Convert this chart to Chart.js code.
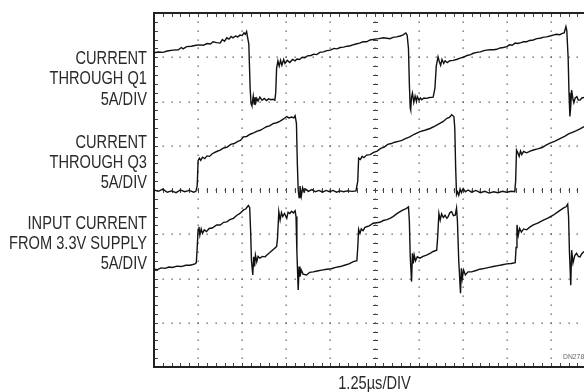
<!DOCTYPE html>
<html><head><meta charset="utf-8">
<script src="https://cdn.jsdelivr.net/npm/chart.js@4"></script>
<style>html,body{margin:0;padding:0;background:#fff;overflow:hidden}canvas{display:block}</style>
</head><body>
<canvas id="c" width="584" height="392"></canvas>
<script>
// time in divisions (1 div = 1.25 µs), current in divisions (1 div = 5 A)
const q1Current = [[0,7.10],[0.1,7.12],[0.2,7.11],[0.3,7.14],[0.43,7.16],[0.55,7.17],[0.62,7.22],[0.66,7.19],[0.74,7.24],[0.85,7.25],[0.95,7.27],[1.04,7.28],[1.12,7.27],[1.2,7.31],[1.28,7.30],[1.34,7.35],[1.42,7.33],[1.50,7.32],[1.55,7.40],[1.60,7.36],[1.65,7.44],[1.70,7.41],[1.75,7.47],[1.79,7.44],[1.85,7.48],[1.90,7.46],[1.95,7.50],[2.00,7.49],[2.04,7.55],[2.07,7.52],[2.10,7.58],[2.12,7.46],[2.15,7.3],[2.18,6.3],[2.20,5.95],[2.22,5.90],[2.25,6.12],[2.27,5.94],[2.29,6.10],[2.31,5.98],[2.33,6.07],[2.36,6.01],[2.40,6.10],[2.45,6.03],[2.50,6.07],[2.55,6.02],[2.60,6.06],[2.65,6.04],[2.70,6.05],[2.74,6.03],[2.76,6.2],[2.78,6.75],[2.81,6.92],[2.84,6.80],[2.87,6.93],[2.90,6.82],[2.94,6.95],[2.97,6.86],[3.02,6.93],[3.08,6.88],[3.14,6.95],[3.20,6.92],[3.24,6.96],[3.30,6.95],[3.36,7.00],[3.42,6.99],[3.48,7.03],[3.56,7.04],[3.62,7.07],[3.69,7.06],[3.76,7.11],[3.84,7.12],[3.92,7.15],[4.00,7.16],[4.08,7.20],[4.15,7.19],[4.22,7.22],[4.30,7.23],[4.38,7.25],[4.45,7.26],[4.51,7.28],[4.58,7.30],[4.66,7.32],[4.74,7.35],[4.82,7.35],[4.90,7.39],[5.01,7.41],[5.10,7.42],[5.20,7.44],[5.28,7.43],[5.35,7.42],[5.42,7.45],[5.50,7.46],[5.58,7.48],[5.64,7.50],[5.71,7.55],[5.74,7.50],[5.77,7.2],[5.79,6.4],[5.81,5.85],[5.82,5.81],[5.84,6.10],[5.86,6.19],[5.89,5.98],[5.92,6.12],[5.95,6.00],[5.97,6.11],[6.01,6.03],[6.04,6.08],[6.07,6.04],[6.12,6.08],[6.18,6.07],[6.25,6.09],[6.33,6.10],[6.37,6.3],[6.40,6.8],[6.44,7.01],[6.47,6.90],[6.50,6.82],[6.53,6.95],[6.57,6.86],[6.60,6.92],[6.65,6.88],[6.71,6.92],[6.78,6.93],[6.86,6.95],[6.94,6.98],[7.02,7.00],[7.10,7.04],[7.18,7.06],[7.24,7.09],[7.32,7.11],[7.40,7.12],[7.48,7.15],[7.54,7.16],[7.62,7.17],[7.70,7.17],[7.77,7.18],[7.85,7.21],[7.92,7.22],[8.00,7.24],[8.06,7.28],[8.12,7.27],[8.19,7.32],[8.25,7.31],[8.32,7.33],[8.38,7.35],[8.45,7.35],[8.52,7.38],[8.60,7.39],[8.68,7.42],[8.75,7.43],[8.82,7.45],[8.90,7.46],[8.98,7.48],[9.05,7.50],[9.12,7.52],[9.20,7.51],[9.26,7.54],[9.30,7.55],[9.34,7.69],[9.36,7.60],[9.39,7.0],[9.41,6.2],[9.43,5.66],[9.45,5.9],[9.47,6.26],[9.50,6.05],[9.52,5.97],[9.55,6.08],[9.59,6.11],[9.62,6.03],[9.66,6.03],[9.70,6.08],[9.75,6.09]];

const q3Current = [[0,4.00],[0.1,3.97],[0.2,4.02],[0.3,3.95],[0.4,3.98],[0.5,3.94],[0.6,4.00],[0.7,3.96],[0.8,3.99],[0.9,3.95],[0.95,3.97],[0.98,4.1],[1.0,4.66],[1.03,4.72],[1.06,4.67],[1.10,4.74],[1.15,4.71],[1.20,4.77],[1.26,4.76],[1.32,4.82],[1.42,4.87],[1.50,4.90],[1.58,4.95],[1.66,4.97],[1.74,5.03],[1.82,5.05],[1.90,5.10],[1.96,5.12],[2.03,5.20],[2.10,5.21],[2.18,5.26],[2.26,5.29],[2.34,5.33],[2.41,5.35],[2.48,5.39],[2.55,5.43],[2.62,5.45],[2.70,5.50],[2.78,5.52],[2.85,5.55],[2.93,5.60],[3.01,5.66],[3.06,5.63],[3.12,5.65],[3.17,5.63],[3.20,5.68],[3.23,5.5],[3.25,4.6],[3.27,4.0],[3.29,3.83],[3.31,4.09],[3.34,3.86],[3.37,4.05],[3.40,3.96],[3.44,4.02],[3.50,3.97],[3.58,4.01],[3.66,3.96],[3.74,3.99],[3.82,3.95],[3.90,3.99],[3.98,3.96],[4.06,3.99],[4.14,3.95],[4.22,3.98],[4.30,3.96],[4.38,3.98],[4.50,3.97],[4.58,3.98],[4.62,4.2],[4.64,4.72],[4.68,4.69],[4.72,4.76],[4.76,4.73],[4.82,4.79],[4.90,4.80],[4.98,4.85],[5.06,4.88],[5.14,4.94],[5.22,4.97],[5.30,5.03],[5.38,5.05],[5.46,5.08],[5.54,5.10],[5.62,5.12],[5.70,5.16],[5.80,5.20],[5.90,5.26],[6.03,5.32],[6.14,5.35],[6.26,5.39],[6.38,5.45],[6.49,5.51],[6.56,5.55],[6.64,5.62],[6.70,5.64],[6.75,5.70],[6.80,5.66],[6.82,5.4],[6.84,4.5],[6.86,3.90],[6.88,3.96],[6.91,3.88],[6.94,4.02],[6.97,3.94],[7.01,4.03],[7.06,3.96],[7.12,4.00],[7.20,3.95],[7.30,3.99],[7.40,3.94],[7.50,3.97],[7.60,3.93],[7.70,3.96],[7.80,3.94],[7.90,3.97],[8.00,3.95],[8.10,3.97],[8.18,3.96],[8.20,4.2],[8.22,4.9],[8.25,4.84],[8.28,4.76],[8.31,4.88],[8.34,4.80],[8.38,4.87],[8.45,4.84],[8.53,4.88],[8.62,4.91],[8.70,4.93],[8.80,4.96],[8.90,5.02],[8.98,5.06],[9.08,5.10],[9.16,5.14],[9.24,5.18],[9.32,5.22],[9.40,5.27],[9.50,5.31],[9.58,5.34],[9.66,5.38],[9.75,5.43]];

const inputCurrent = [[0,2.21],[0.08,2.20],[0.16,2.24],[0.25,2.23],[0.34,2.26],[0.42,2.25],[0.52,2.28],[0.62,2.27],[0.72,2.30],[0.82,2.30],[0.93,2.33],[0.96,2.36],[0.98,2.7],[1.0,3.11],[1.02,3.17],[1.04,2.98],[1.07,3.12],[1.10,3.02],[1.14,3.10],[1.19,3.06],[1.25,3.13],[1.32,3.14],[1.42,3.21],[1.50,3.21],[1.58,3.27],[1.65,3.28],[1.72,3.33],[1.80,3.36],[1.88,3.43],[1.95,3.47],[2.03,3.55],[2.08,3.57],[2.14,3.65],[2.17,3.6],[2.19,3.1],[2.21,2.4],[2.24,2.08],[2.26,2.49],[2.28,2.27],[2.30,2.53],[2.33,2.38],[2.36,2.50],[2.40,2.46],[2.46,2.50],[2.52,2.49],[2.56,2.53],[2.62,2.58],[2.71,2.66],[2.78,2.72],[2.80,2.9],[2.83,3.51],[2.86,3.32],[2.89,3.49],[2.92,3.40],[2.96,3.47],[3.01,3.36],[3.04,3.50],[3.08,3.47],[3.12,3.52],[3.16,3.48],[3.20,3.53],[3.22,3.4],[3.24,2.6],[3.27,1.74],[3.29,2.27],[3.31,2.04],[3.34,2.19],[3.38,2.10],[3.46,2.08],[3.53,2.14],[3.61,2.15],[3.70,2.17],[3.80,2.19],[3.92,2.21],[4.02,2.22],[4.12,2.25],[4.22,2.27],[4.32,2.30],[4.42,2.33],[4.52,2.38],[4.60,2.40],[4.62,2.7],[4.64,3.11],[4.67,3.02],[4.70,3.12],[4.74,3.08],[4.78,3.15],[4.82,3.17],[4.88,3.19],[4.97,3.25],[5.05,3.26],[5.12,3.27],[5.20,3.31],[5.28,3.33],[5.35,3.36],[5.42,3.40],[5.50,3.46],[5.58,3.51],[5.65,3.55],[5.72,3.58],[5.77,3.62],[5.79,3.3],[5.81,2.5],[5.84,1.93],[5.86,2.57],[5.88,2.34],[5.90,2.53],[5.93,2.40],[5.97,2.49],[6.03,2.46],[6.10,2.50],[6.18,2.53],[6.26,2.57],[6.33,2.61],[6.41,2.64],[6.43,2.9],[6.46,3.47],[6.49,3.32],[6.52,3.46],[6.56,3.38],[6.60,3.43],[6.64,3.36],[6.67,3.40],[6.71,3.49],[6.75,3.51],[6.79,3.42],[6.83,3.43],[6.86,3.59],[6.88,3.3],[6.91,2.4],[6.95,1.67],[6.97,2.23],[6.99,2.00],[7.02,2.19],[7.06,2.08],[7.12,2.15],[7.20,2.15],[7.30,2.18],[7.39,2.21],[7.50,2.23],[7.60,2.25],[7.69,2.27],[7.80,2.29],[7.90,2.31],[8.00,2.33],[8.10,2.34],[8.19,2.36],[8.21,2.7],[8.23,3.21],[8.26,2.98],[8.29,3.13],[8.33,3.05],[8.38,3.12],[8.45,3.10],[8.52,3.16],[8.60,3.21],[8.70,3.25],[8.83,3.32],[8.94,3.37],[9.05,3.43],[9.15,3.50],[9.28,3.59],[9.34,3.62],[9.38,3.68],[9.40,3.4],[9.42,2.6],[9.45,1.85],[9.47,2.64],[9.50,2.35],[9.54,2.52],[9.58,2.57],[9.62,2.50],[9.66,2.49],[9.70,2.56],[9.75,2.61]];

const labelQ1 = ["CURRENT", "THROUGH Q1", "5A/DIV"];
const labelQ3 = ["CURRENT", "THROUGH Q3", "5A/DIV"];
const labelInput = ["INPUT CURRENT", "FROM 3.3V SUPPLY", "5A/DIV"];
const xAxisLabel = "1.25µs/DIV";
const noteLabel = "DN278";

const toPts = arr => arr.map(p => ({x: p[0], y: p[1]}));

const scopeGrid = {
  id: 'scopeGrid',
  beforeDatasetsDraw(chart) {
    const {ctx, chartArea: a, scales: {x, y}} = chart;
    ctx.save();
    // dotted graticule
    ctx.fillStyle = '#555';
    for (let i = 1; i <= 9; i++) {
      const px = Math.round(x.getPixelForValue(i));
      for (let j = 1; j < 40; j++) {
        const py = Math.round(y.getPixelForValue(j / 5));
        ctx.fillRect(px - 0.5, py - 0.5, 1.3, 1.3);
      }
    }
    for (let j = 1; j <= 7; j++) {
      const py = Math.round(y.getPixelForValue(j));
      for (let i = 1; i < 50; i++) {
        const px = Math.round(x.getPixelForValue(i / 5));
        if (px > a.right) break;
        ctx.fillRect(px - 0.5, py - 0.5, 1.3, 1.3);
      }
    }
    ctx.strokeStyle = '#444';
    ctx.lineWidth = 1;
    ctx.beginPath();
    // centre cross ticks
    const cx = Math.round(x.getPixelForValue(5)) + 0.5;
    const cy = Math.round(y.getPixelForValue(4)) + 0.5;
    for (let j = 1; j < 40; j++) {
      const py = Math.round(y.getPixelForValue(j / 5)) + 0.5;
      ctx.moveTo(cx - 2.5, py); ctx.lineTo(cx + 2.5, py);
    }
    for (let i = 1; i < 50; i++) {
      const px = Math.round(x.getPixelForValue(i / 5)) + 0.5;
      if (px > a.right) break;
      ctx.moveTo(px, cy - 2.5); ctx.lineTo(px, cy + 2.5);
    }
    // border ticks
    for (let i = 1; i < 50; i++) {
      const px = Math.round(x.getPixelForValue(i / 5)) + 0.5;
      if (px > a.right) break;
      ctx.moveTo(px, a.top); ctx.lineTo(px, a.top + 4);
      ctx.moveTo(px, a.bottom); ctx.lineTo(px, a.bottom - 4);
    }
    for (let j = 1; j < 40; j++) {
      const py = Math.round(y.getPixelForValue(j / 5)) + 0.5;
      ctx.moveTo(a.left, py); ctx.lineTo(a.left + 4, py);
    }
    ctx.stroke();
    // frame
    ctx.strokeStyle = '#222';
    ctx.lineWidth = 2;
    ctx.beginPath();
    ctx.moveTo(a.right + 2, a.top); ctx.lineTo(a.left, a.top);
    ctx.lineTo(a.left, a.bottom); ctx.lineTo(a.right + 2, a.bottom);
    ctx.stroke();
    ctx.restore();
  }
};

const scopeLabels = {
  id: 'scopeLabels',
  afterDraw(chart) {
    const {ctx, chartArea: a, scales: {x}} = chart;
    ctx.save();
    ctx.fillStyle = '#2a2a2a';
    ctx.font = '19px "Liberation Sans", Arial, sans-serif';
    const sx = 0.77;
    const drawRight = (txt, rx, base) => {
      ctx.save(); ctx.translate(rx, base); ctx.scale(sx, 1);
      ctx.textAlign = 'right'; ctx.textBaseline = 'alphabetic';
      ctx.fillText(txt, 0, 0); ctx.restore();
    };
    const drawCenter = (txt, cx, base) => {
      ctx.save(); ctx.translate(cx, base); ctx.scale(sx, 1);
      ctx.textAlign = 'center'; ctx.textBaseline = 'alphabetic';
      ctx.fillText(txt, 0, 0); ctx.restore();
    };
    const rx = a.left - 7;
    const groups = [[labelQ1, 64], [labelQ3, 147.5], [labelInput, 228.7]];
    groups.forEach(([lines, b0]) => lines.forEach((t, k) => drawRight(t, rx, b0 + k * 20.3)));
    drawCenter(xAxisLabel, x.getPixelForValue(5), a.bottom + 22);
    ctx.fillStyle = '#666';
    ctx.font = '8px "Liberation Sans", Arial, sans-serif';
    ctx.save(); ctx.translate(563, a.bottom - 8); ctx.scale(0.85, 1);
    ctx.textAlign = 'left'; ctx.fillText(noteLabel, 0, 0); ctx.restore();
    ctx.restore();
  }
};

const traceStyle = {borderColor: '#111', borderWidth: 1.4, pointRadius: 0, tension: 0, fill: false};

new Chart(document.getElementById('c'), {
  type: 'line',
  data: {
    datasets: [
      Object.assign({label: 'Q1', data: toPts(q1Current)}, traceStyle),
      Object.assign({label: 'Q3', data: toPts(q3Current)}, traceStyle),
      Object.assign({label: 'Input', data: toPts(inputCurrent)}, traceStyle)
    ]
  },
  options: {
    responsive: false,
    animation: false,
    devicePixelRatio: 1,
    layout: {padding: {left: 154, top: 13, right: 0, bottom: 25}},
    plugins: {legend: {display: false}, tooltip: {enabled: false}},
    scales: {
      x: {type: 'linear', min: 0, max: 9.75, display: false},
      y: {type: 'linear', min: 0, max: 8, display: false}
    }
  },
  plugins: [scopeGrid, scopeLabels]
});
</script>
</body></html>
